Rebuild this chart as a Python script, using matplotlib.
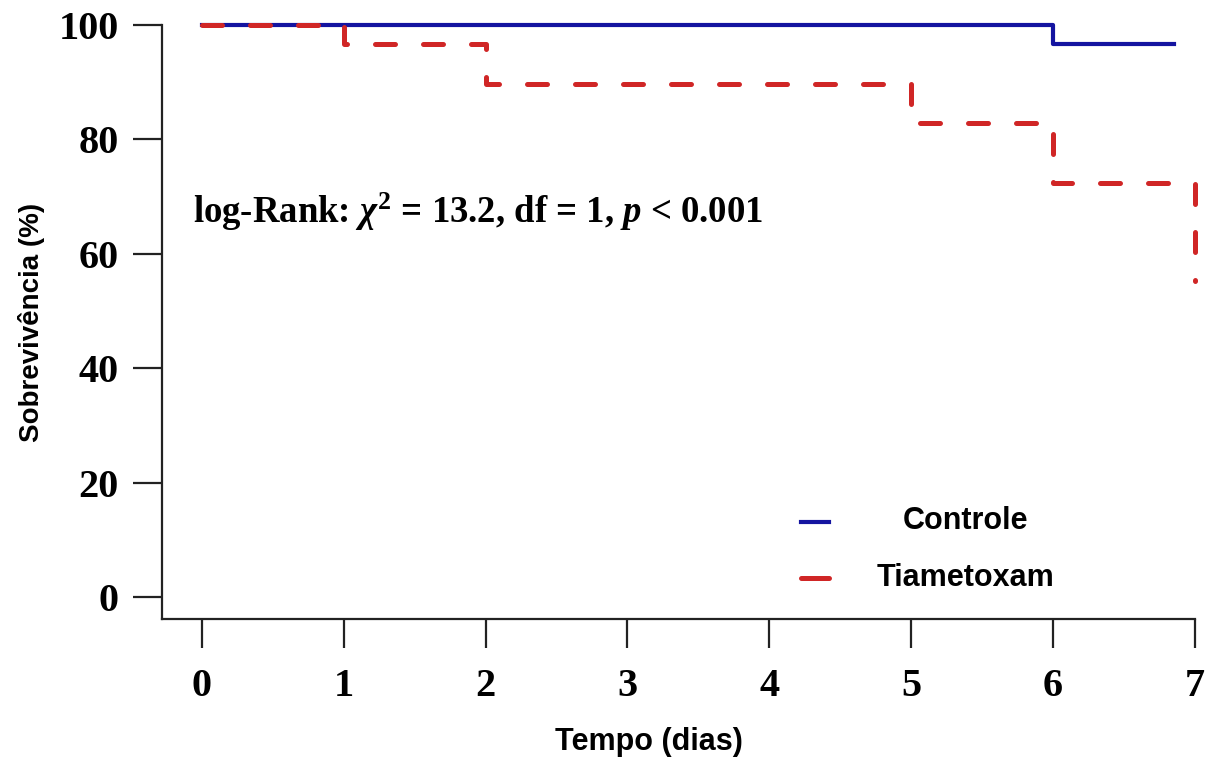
import matplotlib.pyplot as plt
from matplotlib.lines import Line2D

plt.rcParams['mathtext.fontset'] = 'custom'
plt.rcParams['mathtext.rm'] = 'Liberation Serif:bold'
plt.rcParams['mathtext.it'] = 'Liberation Serif:italic:bold'
plt.rcParams['mathtext.bf'] = 'Liberation Serif:bold'

# curvas de Kaplan-Meier (tempo em dias, sobrevivencia em %)
t_controle = [0, 6, 6.85]
s_controle = [100, 96.6, 96.6]
t_tiame = [0, 1, 2, 5, 6, 7]
s_tiame = [100, 96.6, 89.7, 82.8, 72.4, 55.2]

xticks = [0, 1, 2, 3, 4, 5, 6, 7]
yticks = [0, 20, 40, 60, 80, 100]
labels = ['Controle', 'Tiametoxam']

azul = '#1414a0'
vermelho = '#d02626'

fig = plt.figure(figsize=(12.11, 7.58), dpi=100)
ax = fig.add_axes([0.1338, 0.1834, 0.853, 0.7836])

l1, = ax.plot(t_controle, s_controle, drawstyle='steps-post', color=azul,
              lw=3.0, clip_on=False, zorder=3)
l2, = ax.plot(t_tiame, s_tiame, drawstyle='steps-post', color=vermelho,
              lw=3.6, dashes=(4.0, 5.6), dash_capstyle='round',
              clip_on=False, zorder=4)

ax.set_xlim(-0.28, 7.0)
ax.set_ylim(-3.85, 100)
ax.set_xticks(xticks)
ax.set_yticks(yticks)
for lab in ax.get_xticklabels() + ax.get_yticklabels():
    lab.set_family('Liberation Serif')
    lab.set_weight('bold')
    lab.set_fontsize(29)

ax.spines['top'].set_visible(False)
ax.spines['right'].set_visible(False)
for s in ['left', 'bottom']:
    ax.spines[s].set_linewidth(1.6)
    ax.spines[s].set_color('#222222')
ax.tick_params(axis='both', length=21, width=1.6, color='#222222')
ax.tick_params(axis='y', pad=10)
ax.tick_params(axis='x', pad=14)

ax.set_ylabel('Sobrevivência (%)', family='Liberation Sans', weight='bold', fontsize=20)
ax.yaxis.set_label_coords(-0.113, 0.5)
ax.set_xlabel('Tempo (dias)', family='Liberation Sans', weight='bold', fontsize=22)
ax.xaxis.set_label_coords(0.471, -0.182)

ax.text(-0.065, 67.3, r'log-Rank: $\chi^2$ = 13.2, df = 1, $p$ < 0.001',
        family='Liberation Serif', weight='bold', fontsize=26.5, va='center')

# legenda: traço curto e contínuo para cada grupo
h1 = Line2D([], [], color=azul, lw=3.0, linestyle='-')
h2 = Line2D([], [], color=vermelho, lw=3.6, linestyle='-', solid_capstyle='round')
leg = ax.legend([h1, h2], ['', ''], loc='lower left', bbox_to_anchor=(0.592, -0.006),
                frameon=False, fontsize=22, handlelength=0.9, labelspacing=0.9,
                handletextpad=0)
ax.text(0.778, 0.165, labels[0], transform=ax.transAxes, ha='center', va='center',
        family='Liberation Sans', weight='bold', fontsize=22)
ax.text(0.778, 0.069, labels[1], transform=ax.transAxes, ha='center', va='center',
        family='Liberation Sans', weight='bold', fontsize=22)

fig.savefig('out.png', dpi=100)
